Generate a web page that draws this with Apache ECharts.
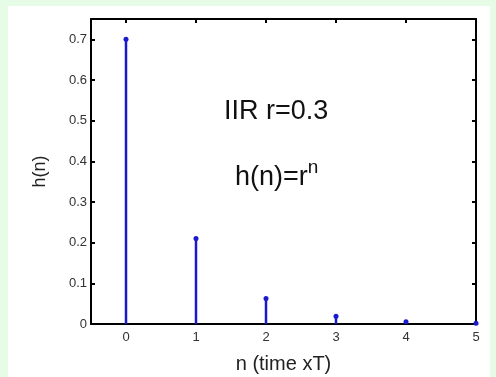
<!DOCTYPE html>
<html><head><meta charset="utf-8">
<script src="https://cdn.jsdelivr.net/npm/echarts@6/dist/echarts.min.js"></script>
<style>
html,body{margin:0;padding:0;background:#e6fce6;}
#wrap{position:relative;width:496px;height:377px;background:#e6fce6;}
#paper{position:absolute;left:8px;top:6px;width:482px;height:371px;background:#fff;}
#main{position:absolute;left:0;top:0;width:496px;height:377px;}
</style></head>
<body><div id="wrap"><div id="paper"></div><div id="main"></div></div>
<script>
var nValues = [0, 1, 2, 3, 4, 5];
var hValues = [0.7, 0.21, 0.063, 0.0189, 0.0057, 0.0017];
var xTicks = [0, 1, 2, 3, 4, 5];
var yTicks = [0, 0.1, 0.2, 0.3, 0.4, 0.5, 0.6, 0.7];
var titleLine1 = 'IIR r=0.3';

var chart = echarts.init(document.getElementById('main'));
var font = 'Liberation Sans, Arial, sans-serif';
var blue = '#1a1acc';
var axisCommon = {
  axisLine: {show: true, onZero: false, lineStyle: {color: '#000', width: 2}},
  splitLine: {show: false}
};
chart.setOption({
  animation: false,
  grid: {left: 91, right: 20, top: 19, bottom: 53, outerBoundsMode: 'none', containLabel: false},
  xAxis: [
    Object.assign({type: 'value', min: -0.5, max: 5, position: 'bottom',
      name: 'n (time xT)', nameLocation: 'middle', nameGap: 30,
      nameTextStyle: {fontFamily: font, fontSize: 20, color: '#222'},
      axisTick: {show: true, inside: true, length: 4, customValues: xTicks, lineStyle: {color: '#000', width: 2}},
      axisLabel: {customValues: xTicks, fontFamily: font, fontSize: 13, color: '#333', margin: 7}
    }, axisCommon),
    Object.assign({type: 'value', min: -0.5, max: 5, position: 'top',
      axisTick: {show: true, inside: true, length: 4, customValues: xTicks, lineStyle: {color: '#000', width: 2}},
      axisLabel: {show: false}
    }, axisCommon)
  ],
  yAxis: [
    Object.assign({type: 'value', min: 0, max: 0.75, position: 'left',
      name: 'h(n)', nameLocation: 'middle', nameGap: 42, nameRotate: 90,
      nameTextStyle: {fontFamily: font, fontSize: 18, color: '#222'},
      axisTick: {show: true, inside: true, length: 4, customValues: yTicks, lineStyle: {color: '#000', width: 2}},
      axisLabel: {customValues: yTicks, fontFamily: font, fontSize: 13, color: '#333', margin: 4,
        formatter: function (v) { return String(Math.round(v * 10) / 10); }}
    }, axisCommon),
    Object.assign({type: 'value', min: 0, max: 0.75, position: 'right',
      axisTick: {show: true, inside: true, length: 4, customValues: yTicks, lineStyle: {color: '#000', width: 2}},
      axisLabel: {show: false}
    }, axisCommon)
  ],
  graphic: [
    {type: 'text', left: 224, top: 98, style: {text: titleLine1, font: '27px ' + font, fill: '#111'}},
    {type: 'text', left: 235, top: 158, style: {
      text: '{a|h(n)=r}{b|n}',
      rich: {
        a: {font: '27px ' + font, fill: '#111', verticalAlign: 'bottom'},
        b: {font: '19px ' + font, fill: '#111', verticalAlign: 'top', padding: [0, 0, 14, 0]}
      }}}
  ],
  series: [{
    type: 'custom',
    data: nValues.map(function (n, i) { return [n, hValues[i]]; }),
    renderItem: function (params, api) {
      var base = api.coord([api.value(0), 0]);
      var top = api.coord([api.value(0), api.value(1)]);
      return {type: 'group', children: [
        {type: 'line', shape: {x1: base[0], y1: base[1], x2: top[0], y2: top[1]},
          style: {stroke: blue, lineWidth: 2.5}},
        {type: 'circle', shape: {cx: top[0], cy: top[1], r: 2.5}, style: {fill: blue}}
      ]};
    },
    z: 10
  }]
});
</script></body></html>
